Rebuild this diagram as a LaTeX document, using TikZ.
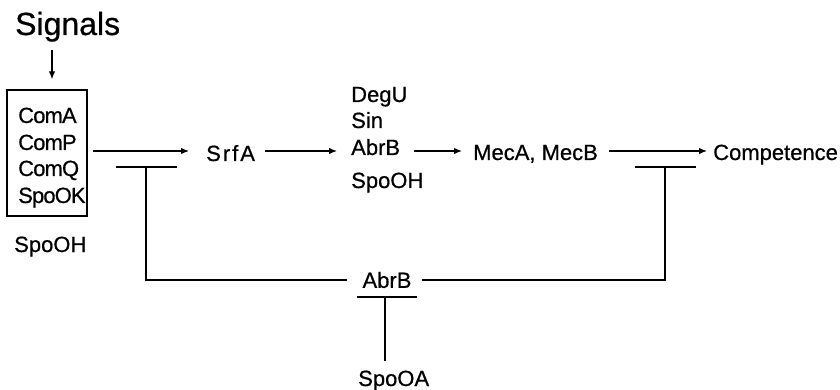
\documentclass[tikz,border=0pt]{standalone}
\usepackage{fontspec}
\setmainfont{Liberation Sans}[FakeBold=0.6]
\newfontfamily\labelfont{Liberation Sans}[FakeBold=0.6]
\newfontfamily\tightfont{Liberation Sans}[FakeBold=0.6,LetterSpace=-4]
\usetikzlibrary{arrows.meta}
\begin{document}
\begin{tikzpicture}[x=1pt,y=-1pt,
  lab/.style={font=\labelfont\fontsize{22}{26}\selectfont, inner sep=0pt, anchor=base west},
  boxlab/.style={lab, font=\tightfont\fontsize{22}{26}\selectfont},
  ln/.style={line width=1.5pt},
  arr/.style={line width=1.3pt, -{Latex[length=8pt,width=6.5pt]}},
  boxstyle/.style={draw, line width=1.4pt, inner sep=0pt, minimum width=80pt, minimum height=126pt},
]
\useasboundingbox (0,0) rectangle (840,390);

% input signals and the sensing proteins
\node[font=\labelfont\fontsize{32}{36}\selectfont, inner sep=0pt, anchor=base west] (signals) at (15,35) {Signals};
\node[boxstyle] (box) at (47,153) {};
\node[boxlab] (comA) at (18,123) {ComA};
\node[boxlab] (comP) at (18,150) {ComP};
\node[boxlab] (comQ) at (18,176) {ComQ};
\node[boxlab] (spoOK) at (18,203) {SpoOK};
\node[lab] (spoOHa) at (14,252) {SpoOH};

% main cascade
\node[lab] (srfa) at (206,161) {S\kern2pt r\kern2pt f\kern2pt A};
\node[lab] (degu) at (351,102) {DegU};
\node[lab] (sin) at (351,128) {Sin};
\node[lab] (abrbA) at (351,155) {AbrB};
\node[lab] (spoOHb) at (351,188) {SpoOH};
\node[lab] (mec) at (473,160) {MecA, MecB};
\node[lab] (comp) at (713,160) {Competence};

% repressor loop
\node[lab, anchor=center] (abrbB) at (387,280) {AbrB};
\node[lab] (spooa) at (358,386) {SpoOA};

% helper coordinates
\coordinate (sx) at (52,0);
\coordinate (rail) at (0,151);
\coordinate (hL) at (146,167);
\coordinate (hR) at (665,167);
\coordinate (hB) at (385,297);

% arrows
\draw[arr, shorten <=8pt, shorten >=10pt] (signals.south -| sx) -- (box.north -| sx);
\draw[arr, shorten <=5pt, shorten >=17pt] (box.east |- rail) -- (srfa.west |- rail);
\draw[arr, shorten <=10pt, shorten >=14pt] (srfa.east |- rail) -- (abrbA.west |- rail);
\draw[arr, shorten <=14pt, shorten >=11pt] (abrbA.east |- rail) -- (mec.west |- rail);
\draw[arr, shorten <=11pt, shorten >=6pt] (mec.east |- rail) -- (comp.west |- rail);

% inhibition bars
\draw[ln] ([xshift=-30pt]hL) -- ([xshift=31pt]hL);
\draw[ln] ([xshift=-30pt]hR) -- ([xshift=31pt]hR);
\draw[ln] ([xshift=-28pt]hB) -- ([xshift=32pt]hB);
\draw[ln, shorten >=15pt] (hL) |- (abrbB.west);
\draw[ln, shorten >=10pt] (hR) |- (abrbB.east);
\draw[ln, shorten >=9pt] (hB) -- (hB |- spooa.north);
\end{tikzpicture}
\end{document}
